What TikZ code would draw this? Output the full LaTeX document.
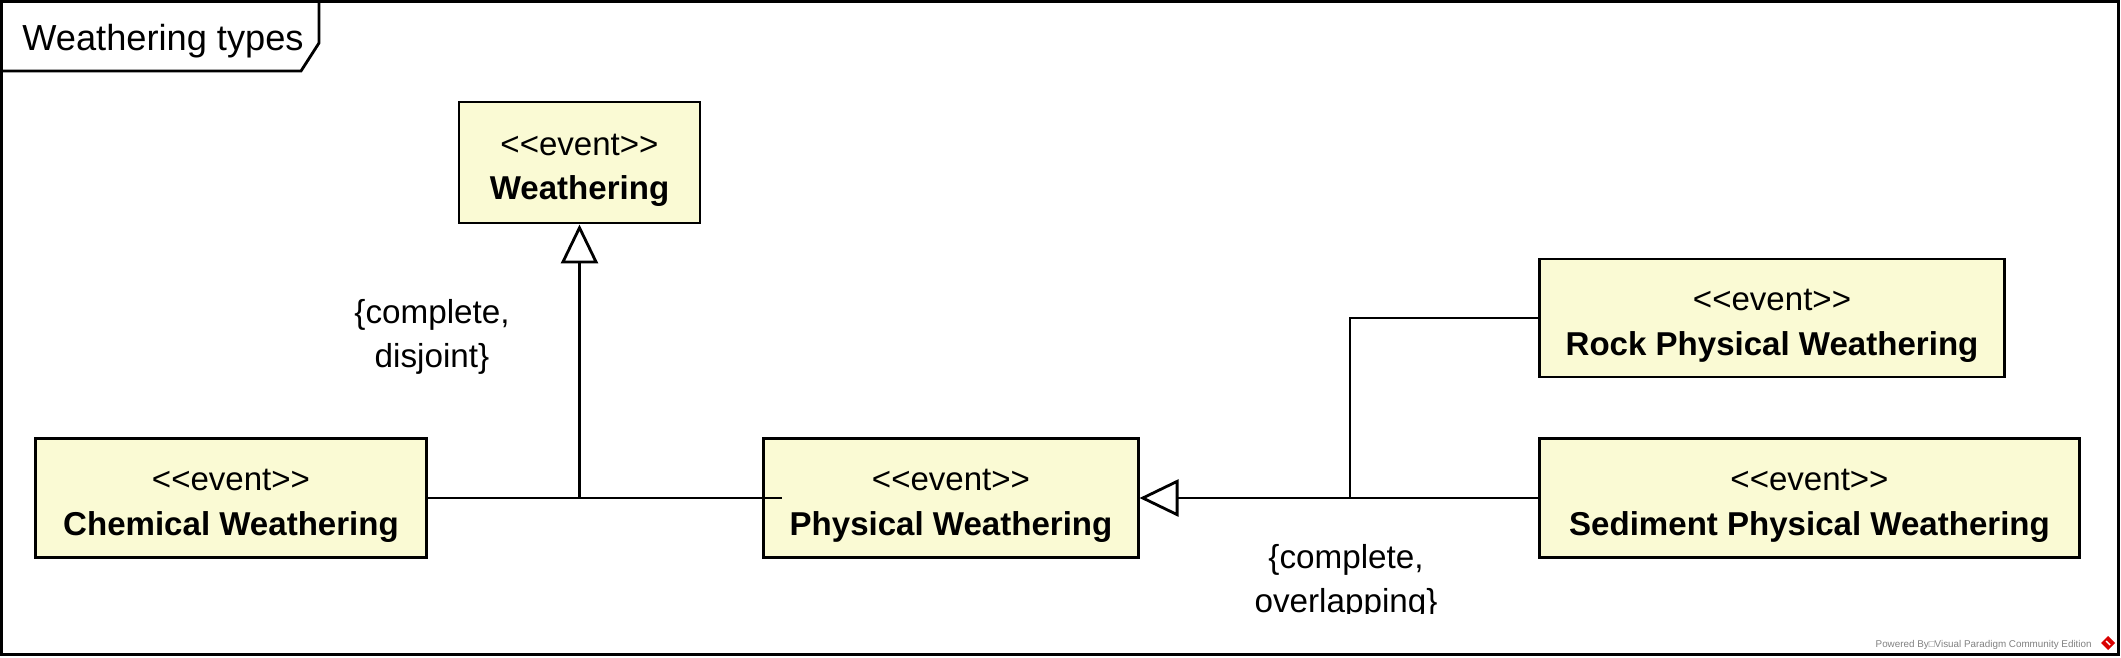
\documentclass[tikz,border=0pt]{standalone}
\usepackage{fontspec}
\setmainfont{Liberation Sans}
\usetikzlibrary{arrows.meta}
\definecolor{evfill}{RGB}{250,250,212}
\newcommand{\stereo}{\rule{0pt}{10.6pt}<\kern0pt<event>\kern0pt>}

\begin{document}
\begin{tikzpicture}[x=0.01cm, y=-0.01cm, line width=0.8pt,
    evt/.style={draw, fill=evfill, align=center, inner sep=0pt,
      font=\fontsize{9.4}{12.7}\selectfont},
    lbl/.style={align=center, inner sep=0pt, font=\fontsize{9.45}{12.7}\selectfont},
    gen/.style={-{Triangle[open, length=0.39cm, width=0.37cm]}}]
  \useasboundingbox (0,0) rectangle (2121,657);
  % Marco
  \draw (1.5,1.5) rectangle (2118.5,654.5);
  \draw (1.5,71) -- (301,71) -- (319,43) -- (319,1.5);
  \node[anchor=base west, inner sep=0pt, font=\fontsize{10.3}{12}\selectfont] (title) at (21,50) {Weathering types};

  % Eventos
  \node[evt, minimum width=2.41cm, minimum height=1.21cm] (weath) at (579.5,162.5) {\stereo\\\textbf{Weathering}};
  \node[evt, minimum width=3.90cm, minimum height=1.19cm] (chem) at (231,498) {\stereo\\\textbf{Chemical Weathering}};
  \node[evt, minimum width=3.74cm, minimum height=1.19cm] (phys) at (951,498) {\stereo\\\textbf{Physical Weathering}};
  \node[evt, minimum width=4.64cm, minimum height=1.18cm] (rock) at (1772,318) {\stereo\\\textbf{Rock Physical Weathering}};
  \node[evt, minimum width=5.39cm, minimum height=1.19cm] (sed) at (1809.5,498) {\stereo\\\textbf{Sediment Physical Weathering}};

  % Generalizaciones
  \coordinate (j1) at (weath.south |- phys.west);
  \coordinate (j2) at (1350,498);
  \draw (chem.east) -- (j1) -- ([xshift=0.19cm]phys.west);
  \draw[gen] (j1) -- (weath.south);
  \draw (rock.west) -| (j2);
  \draw (sed.west) -- (j2);
  \draw[gen] (j2) -- (phys.east);

  % Restricciones
  \node[lbl] (disj) at (432,337) {\{complete,\\disjoint\}};
  \begin{scope}
    \clip (0,0) rectangle (2121,613);
    \node[lbl] (ovl) at (1346,582) {\{complete,\\overlapping\}};
  \end{scope}

  % Marca
  \node[anchor=base east, inner sep=0pt, text=black!50, font=\fontsize{2.8}{3.4}\selectfont] (vp) at (2093,647) {Powered By□Visual Paradigm Community Edition};
  \fill[red!85!black] (2108,636) -- (2115,643) -- (2108,650) -- (2101,643) -- cycle;
  \draw[white, line width=0.4pt] (2106,641) -- (2110,645);
\end{tikzpicture}
\end{document}
